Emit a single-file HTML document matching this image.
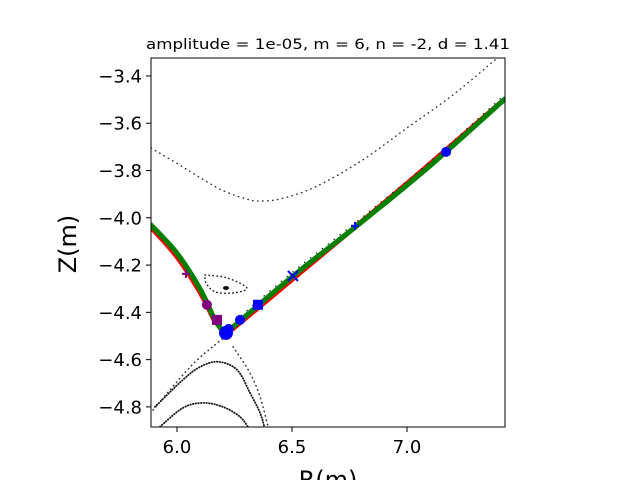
<!DOCTYPE html>
<html><head><meta charset="utf-8"><style>
body{margin:0;background:#fff;width:640px;height:480px;overflow:hidden;font-family:"DejaVu Sans",sans-serif}
text{font-family:"DejaVu Sans",sans-serif}
</style></head><body>
<svg id="chart" width="640" height="480" xmlns="http://www.w3.org/2000/svg">
<text x="328" y="49" font-size="14.5" text-anchor="middle" textLength="364" lengthAdjust="spacingAndGlyphs">amplitude = 1e-05, m = 6, n = -2, d = 1.41</text>
<g id="plot"></g>
<text x="0" y="0" font-size="24" text-anchor="middle" transform="translate(76,244) rotate(-90)">Z(m)</text>
<text x="328" y="488" font-size="24" text-anchor="middle">R(m)</text>
</svg>
<script>
const xTicks=[6.0,6.5,7.0];
const yTicks=[-3.4,-3.6,-3.8,-4.0,-4.2,-4.4,-4.6,-4.8];
const topArcR=[5.887,6.0,6.1,6.2,6.3,6.352,6.45,6.6,6.8,7.0,7.2,7.383];
const topArcZ=[-3.705,-3.77,-3.83,-3.885,-3.92,-3.929,-3.92,-3.87,-3.76,-3.62,-3.48,-3.332];
const arc1R=[5.904,6.026,6.100,6.178,6.261,6.317,6.361,6.383];
const arc1Z=[-4.800,-4.685,-4.631,-4.609,-4.643,-4.740,-4.825,-4.897];
const arc2R=[5.926,6.026,6.113,6.200,6.274,6.317];
const arc2Z=[-4.884,-4.804,-4.783,-4.800,-4.842,-4.897];
const legLR=[5.896,6.057,6.165,6.222];
const legLZ=[-4.813,-4.631,-4.538,-4.495];
const legRR=[6.244,6.317,6.361,6.396];
const legRZ=[-4.546,-4.656,-4.757,-4.884];
const islandR=[6.122,6.217,6.304,6.243,6.165,6.126,6.122];
const islandZ=[-4.242,-4.254,-4.297,-4.318,-4.313,-4.275,-4.242];
const greenR=[6.213,6.5,6.8,7.1,7.426];
const greenZ=[-4.487,-4.25,-4.02,-3.78,-3.497];
const greenLR=[5.887,6.0,6.1,6.165,6.2];
const greenLZ=[-4.030,-4.15,-4.30,-4.432,-4.48];
const redR=[6.21,6.36,6.6,7.0,7.4];
const redZ=[-4.495,-4.375,-4.18,-3.855,-3.519];
const redLR=[5.887,6.0,6.1,6.16];
const redLZ=[-4.040,-4.165,-4.315,-4.43];
const markR=[7.170,6.213,6.274,6.352,6.504,6.774,6.130,6.174,6.039,6.225];
const markZ=[-3.721,-4.487,-4.432,-4.368,-4.246,-4.034,-4.368,-4.432,-4.237,-4.47];
const markType=['circle','circle','circle','square','x','plus','circle','square','plus','circle'];
const markColor=['blue','blue','blue','blue','blue','blue','purple','purple','purple','blue'];
const markSize=[5,7,5,5,5,4,5,5,4,5];

const L=151,R=505,T=58,B=427,X0=5.887,X1=7.426,Y0=-4.885,Y1=-3.324;
const sx=v=>L+(v-X0)/(X1-X0)*(R-L);
const sy=v=>B-(v-Y0)/(Y1-Y0)*(B-T);
const NS='http://www.w3.org/2000/svg';
const plot=document.getElementById('plot');
function mk(tag,attrs,parent){const e=document.createElementNS(NS,tag);for(const k in attrs)e.setAttribute(k,attrs[k]);(parent||plot).appendChild(e);return e;}
const clip=mk('clipPath',{id:'cp'});mk('rect',{x:L,y:T,width:R-L,height:B-T},clip);
const g=mk('g',{'clip-path':'url(#cp)'});


function smooth(rs,zs){
  const p=rs.map((r,i)=>[sx(r),sy(zs[i])]);
  let d='M'+p[0][0]+' '+p[0][1];
  for(let i=0;i<p.length-1;i++){
    const p0=p[Math.max(i-1,0)],p1=p[i],p2=p[i+1],p3=p[Math.min(i+2,p.length-1)];
    d+=` C${p1[0]+(p2[0]-p0[0])/6} ${p1[1]+(p2[1]-p0[1])/6} ${p2[0]-(p3[0]-p1[0])/6} ${p2[1]-(p3[1]-p1[1])/6} ${p2[0]} ${p2[1]}`;
  }
  return d;
}
function line(rs,zs,color,w,dash,name){
  const p=mk('path',{d:smooth(rs,zs),fill:'none',stroke:color,'stroke-width':w,'stroke-dasharray':dash||'none','stroke-linecap':'round','stroke-linejoin':'round'},g);
  
  
}
line(topArcR,topArcZ,'#333',1.4,'0.5 4.5','dotted-outer-surface');
line(arc1R,arc1Z,'#111',1.8,'0.5 2.2','dotted-lower-surface-1');
line(arc2R,arc2Z,'#111',1.8,'0.5 2.2','dotted-lower-surface-2');
line(legLR,legLZ,'#333',1.5,'0.5 4','separatrix-left-leg');
line(legRR,legRZ,'#333',1.5,'0.5 4','separatrix-right-leg');
line(islandR,islandZ,'#222',1.5,'0.5 3.5','island-orbit');
const blob=mk('ellipse',{cx:sx(6.213),cy:sy(-4.297),rx:3,ry:2,fill:'#111'},g);


line(redR,redZ,'red',5,null,'red-manifold-right');
line(redLR,redLZ,'red',5,null,'red-manifold-left');
line(greenR,greenZ,'green',5,null,'green-manifold-right');
line(greenLR,greenLZ,'green',5,null,'green-manifold-left');
line(greenR.map(v=>v-0.008),greenZ.map(v=>v+0.012),'#222',1.2,'0.5 7','scatter-along-right');
markR.forEach((r,i)=>{
  const x=sx(r),y=sy(markZ[i]),s=markSize[i],c=markColor[i];let e;
  if(markType[i]==='circle')e=mk('circle',{cx:x,cy:y,r:s,fill:c},g);
  else if(markType[i]==='square')e=mk('rect',{x:x-s,y:y-s,width:2*s,height:2*s,fill:c},g);
  else if(markType[i]==='x')e=mk('path',{d:`M${x-s} ${y-s}L${x+s} ${y+s}M${x-s} ${y+s}L${x+s} ${y-s}`,stroke:c,'stroke-width':2},g);
  else e=mk('path',{d:`M${x-s} ${y}L${x+s} ${y}M${x} ${y-s}L${x} ${y+s}`,stroke:c,'stroke-width':2},g);
  
  
});
const frame=mk('rect',{x:L,y:T,width:R-L,height:B-T,fill:'none',stroke:'#000','stroke-width':1});


xTicks.forEach(v=>{
  const x=sx(v);
  const t=mk('line',{x1:x,x2:x,y1:B,y2:B+5,stroke:'#000'});
  
  
  const l=mk('text',{x:x,y:B+26,'font-size':18,'text-anchor':'middle'});l.textContent=v.toFixed(1);
  
  
});
yTicks.forEach(v=>{
  const y=sy(v);
  const t=mk('line',{x1:L-5,x2:L,y1:y,y2:y,stroke:'#000'});
  
  
  const l=mk('text',{x:L-9,y:y+6.5,'font-size':18,'text-anchor':'end'});l.textContent='\u2212'+Math.abs(v).toFixed(1);
  
  
});
</script>
</body></html>
